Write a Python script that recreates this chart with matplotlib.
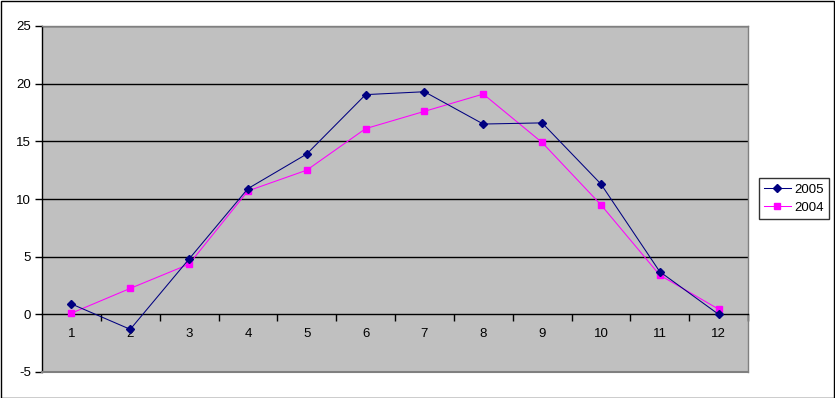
import matplotlib
matplotlib.use("Agg")
import matplotlib.pyplot as plt
from matplotlib.patches import Rectangle

months = [1, 2, 3, 4, 5, 6, 7, 8, 9, 10, 11, 12]
series_2005 = [0.9, -1.3, 4.8, 10.9, 13.9, 19.05, 19.3, 16.5, 16.6, 11.3, 3.7, 0.0]
series_2004 = [0.1, 2.25, 4.35, 10.7, 12.5, 16.1, 17.6, 19.1, 14.9, 9.5, 3.4, 0.45]
y_ticks = [-5, 0, 5, 10, 15, 20, 25]

plt.rcParams['font.family'] = ['Liberation Sans', 'DejaVu Sans']

W, H = 835, 398
fig = plt.figure(figsize=(W / 100, H / 100), dpi=100)
fig.patch.set_facecolor('white')
fig.patches.append(Rectangle((0.5 / W, 0.5 / H), (W - 1.5) / W, (H - 1.5) / H,
                             transform=fig.transFigure, fill=False,
                             edgecolor='black', linewidth=1.0))

left, right, top, bottom = 42, 748, 26, 372
ax = fig.add_axes([left / W, (H - bottom) / H, (right - left) / W, (bottom - top) / H])
ax.set_facecolor('#C0C0C0')
ax.set_xlim(0.5, 12.5)
ax.set_ylim(-5, 25)

for y in y_ticks[2:]:
    ax.axhline(y, color='black', linewidth=1.0, zorder=1)

ax.plot(months, series_2005, color='#000080', marker='D', markersize=4.3,
        linewidth=0.75, label='2005', zorder=4)
ax.plot(months, series_2004, color='#FF00FF', marker='s', markersize=4.5,
        linewidth=0.75, label='2004', zorder=3)

for s in ['top', 'right']:
    ax.spines[s].set_color('#808080')
    ax.spines[s].set_linewidth(1.0)
ax.spines['left'].set_color('black')
ax.spines['left'].set_linewidth(1.0)
ax.spines['bottom'].set_position(('data', 0))
ax.spines['bottom'].set_color('black')
ax.spines['bottom'].set_linewidth(1.0)
ax.axhline(-5, color='#808080', linewidth=1.5, clip_on=False, zorder=5)

ax.set_yticks(y_ticks)
ax.set_yticklabels([str(v) for v in y_ticks])
ax.tick_params(axis='y', direction='out', length=5, width=1, color='black',
               labelsize=9.5, pad=3)

ax.set_xticks([m + 0.5 for m in months[:-1]] + [12.5])
ax.set_xticklabels([])
ax.tick_params(axis='x', which='major', direction='out', length=5, width=1, color='black')
ax.set_xticks(months, minor=True)
ax.set_xticklabels([str(m) for m in months], minor=True)
ax.tick_params(axis='x', which='minor', length=0, labelsize=9.5, pad=10)

leg = ax.legend(loc='upper left', bbox_to_anchor=(759 / W, 1 - 178 / H),
                bbox_transform=fig.transFigure, frameon=True, fancybox=False,
                edgecolor='black', facecolor='white', fontsize=9.5,
                handlelength=2.0, handletextpad=0.3, borderpad=0.4,
                labelspacing=0.45, borderaxespad=0)
leg.get_frame().set_linewidth(1.0)

fig.savefig('out.png', dpi=100)
